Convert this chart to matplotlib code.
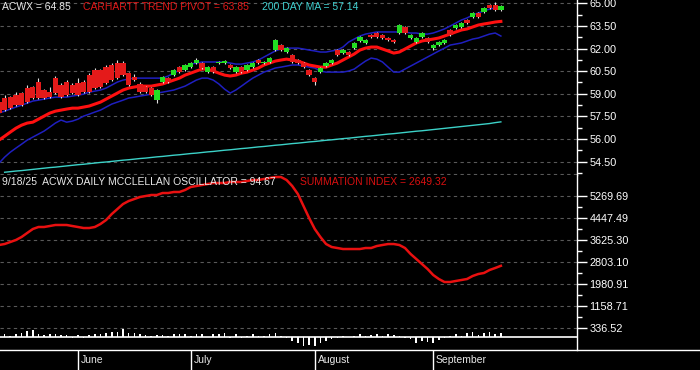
import matplotlib
matplotlib.use("Agg")
import matplotlib.pyplot as plt
import numpy as np
from matplotlib.lines import Line2D

plt.rcParams['font.family'] = ['Liberation Sans', 'DejaVu Sans']

# trading days 5/12/25 .. 9/18/25
months = ['June', 'July', 'August', 'September']
month_start = [14, 34, 56, 77]

opens = [58.45, 58.72, 58.78, 58.91, 59.05, 59.38, 59.45, 59.78, 59.25, 59.11,
         60.04, 59.58, 59.78, 59.58, 59.71, 59.78, 60.24, 60.57, 60.57, 60.77,
         60.91, 61.04, 61.04, 60.37, 60.11, 59.65, 59.45, 59.38, 58.58, 59.78,
         60.04, 60.24, 60.77, 60.57, 60.77, 61.04, 61.04, 60.44, 60.77, 61.04,
         61.04, 60.91, 60.44, 60.77, 60.57, 60.77, 61.24, 61.04, 61.11, 61.90,
         62.23, 61.77, 61.57, 61.24, 61.04, 60.57, 60.04, 60.44, 60.84, 61.04,
         61.90, 61.70, 61.77, 62.03, 62.50, 62.37, 62.90, 63.03, 62.90, 62.70,
         62.57, 63.03, 63.43, 62.70, 62.43, 62.76, 62.70, 62.03, 62.23, 62.37,
         63.23, 63.36, 63.43, 63.89, 64.09, 64.36, 64.42, 64.89, 64.89, 64.56]
closes = [57.72, 57.92, 58.05, 58.25, 58.25, 58.45, 58.72, 58.72, 58.72, 58.78,
          59.05, 58.78, 58.91, 59.05, 58.91, 59.11, 59.11, 59.38, 59.45, 59.71,
          59.91, 60.04, 60.24, 59.58, 59.91, 59.11, 59.11, 58.91, 59.25, 60.11,
          59.78, 60.57, 60.44, 60.91, 61.04, 61.24, 60.71, 60.77, 60.44, 61.11,
          61.15, 60.71, 60.77, 60.44, 60.91, 61.04, 61.04, 61.11, 61.37, 62.57,
          61.90, 62.03, 61.11, 61.04, 60.77, 60.24, 59.78, 60.71, 61.04, 61.24,
          61.57, 61.90, 61.57, 62.37, 62.76, 62.57, 62.76, 62.76, 62.70, 62.57,
          62.43, 63.56, 63.03, 62.90, 62.70, 63.03, 62.43, 62.23, 62.43, 62.57,
          62.90, 63.56, 63.69, 63.69, 64.36, 64.09, 64.69, 64.69, 64.56, 64.85]
highs = [58.55, 58.95, 58.85, 59.10, 59.15, 59.60, 59.55, 60.05, 59.35, 59.45,
         60.15, 59.70, 59.90, 59.70, 60.05, 59.90, 60.40, 60.70, 60.65, 60.90,
         61.05, 61.25, 61.20, 60.45, 60.30, 59.75, 59.55, 59.45, 59.30, 60.20,
         60.10, 60.65, 60.85, 60.98, 61.10, 61.35, 61.10, 60.85, 60.85, 61.17,
         61.22, 60.98, 60.85, 60.85, 60.98, 61.12, 61.30, 61.18, 61.45, 62.65,
         62.30, 62.10, 61.65, 61.30, 61.10, 60.65, 60.10, 60.78, 61.10, 61.30,
         61.98, 61.98, 61.85, 62.45, 62.85, 62.65, 62.98, 63.10, 62.98, 62.78,
         62.65, 63.65, 63.50, 62.98, 62.78, 63.10, 62.78, 62.30, 62.50, 62.65,
         63.30, 63.62, 63.76, 63.96, 64.42, 64.42, 64.76, 64.96, 65.10, 64.92]
lows = [57.65, 57.85, 58.00, 58.20, 58.20, 58.40, 58.65, 58.65, 58.65, 58.70,
        59.00, 58.75, 58.85, 59.00, 58.85, 59.05, 59.05, 59.30, 59.40, 59.65,
        59.85, 60.00, 60.15, 59.50, 59.85, 59.05, 59.05, 58.85, 58.40, 59.70,
        59.70, 60.15, 60.40, 60.50, 60.70, 60.98, 60.65, 60.38, 60.38, 60.98,
        60.98, 60.62, 60.38, 60.38, 60.50, 60.70, 60.98, 60.98, 61.05, 61.85,
        61.85, 61.70, 61.05, 60.98, 60.70, 60.18, 59.60, 60.38, 60.78, 60.95,
        61.50, 61.62, 61.50, 61.95, 62.42, 62.30, 62.70, 62.70, 62.62, 62.50,
        62.36, 62.95, 62.95, 62.62, 62.36, 62.70, 62.36, 61.90, 62.15, 62.30,
        62.82, 63.28, 63.36, 63.62, 64.02, 64.02, 64.35, 64.62, 64.48, 64.48]

pivot = [55.93, 56.19, 56.46, 56.72, 56.92, 57.06, 57.12, 57.32, 57.52, 57.72,
         57.85, 57.92, 57.99, 58.05, 58.05, 58.12, 58.19, 58.32, 58.45, 58.65,
         58.85, 59.05, 59.25, 59.38, 59.45, 59.51, 59.51, 59.51, 59.58, 59.65,
         59.78, 59.91, 60.04, 60.24, 60.37, 60.51, 60.64, 60.64, 60.51, 60.37,
         60.24, 60.18, 60.24, 60.37, 60.44, 60.57, 60.71, 60.91, 61.04, 61.17,
         61.24, 61.30, 61.24, 61.17, 61.04, 60.91, 60.84, 60.77, 60.77, 60.91,
         61.04, 61.24, 61.44, 61.64, 61.90, 62.03, 62.10, 62.10, 61.97, 61.84,
         61.70, 61.77, 61.97, 62.17, 62.37, 62.50, 62.57, 62.63, 62.70, 62.83,
         62.96, 63.10, 63.23, 63.30, 63.43, 63.56, 63.63, 63.69, 63.76, 63.80]
band_hi = [57.72, 57.85, 57.99, 58.12, 58.25, 58.38, 58.52, 58.58, 58.65, 58.72,
           58.78, 58.78, 58.78, 58.85, 58.91, 58.98, 59.11, 59.18, 59.25, 59.38,
           59.58, 59.78, 59.91, 59.98, 60.04, 60.04, 60.04, 60.04, 60.04, 60.04,
           60.18, 60.37, 60.57, 60.77, 60.97, 61.04, 61.11, 61.11, 61.11, 61.11,
           61.11, 61.04, 60.97, 60.97, 61.04, 61.11, 61.24, 61.44, 61.64, 61.84,
           61.97, 62.03, 62.03, 62.03, 61.97, 61.90, 61.84, 61.77, 61.77, 61.84,
           61.90, 62.10, 62.43, 62.63, 62.83, 62.96, 63.03, 63.10, 63.10, 63.10,
           63.10, 63.10, 63.10, 63.03, 63.03, 62.96, 62.96, 63.03, 63.16, 63.30,
           63.49, 63.69, 63.89, 64.03, 64.22, 64.36, 64.49, 64.62, 64.69, 64.76]
band_lo = [54.40, 54.80, 55.13, 55.40, 55.66, 55.93, 56.13, 56.33, 56.53, 56.79,
           57.06, 57.26, 57.12, 57.19, 57.32, 57.52, 57.65, 57.79, 57.92, 58.12,
           58.32, 58.45, 58.58, 58.72, 58.78, 58.85, 58.91, 58.98, 59.05, 59.11,
           59.18, 59.25, 59.38, 59.51, 59.71, 59.91, 60.04, 60.04, 59.91, 59.65,
           59.31, 59.05, 59.25, 59.51, 59.78, 60.04, 60.24, 60.44, 60.57, 60.71,
           60.77, 60.84, 60.91, 60.91, 60.84, 60.77, 60.71, 60.51, 60.44, 60.44,
           60.44, 60.44, 60.51, 60.64, 60.91, 61.17, 61.37, 61.30, 61.11, 60.77,
           60.44, 60.44, 60.64, 60.84, 61.04, 61.24, 61.44, 61.64, 61.84, 62.03,
           62.23, 62.30, 62.37, 62.50, 62.63, 62.70, 62.83, 62.96, 63.03, 62.83]
ma200 = [np.nan, 53.80, 53.84, 53.88, 53.91, 53.95, 53.99, 54.03, 54.07, 54.11,
         54.14, 54.18, 54.22, 54.26, 54.30, 54.33, 54.37, 54.41, 54.45, 54.48,
         54.52, 54.56, 54.60, 54.63, 54.67, 54.71, 54.74, 54.78, 54.82, 54.85,
         54.89, 54.93, 54.96, 55.00, 55.04, 55.07, 55.11, 55.15, 55.18, 55.22,
         55.26, 55.29, 55.33, 55.37, 55.40, 55.44, 55.48, 55.51, 55.55, 55.59,
         55.62, 55.66, 55.70, 55.73, 55.77, 55.81, 55.84, 55.88, 55.92, 55.95,
         55.99, 56.03, 56.06, 56.10, 56.14, 56.18, 56.21, 56.25, 56.29, 56.33,
         56.36, 56.40, 56.44, 56.48, 56.52, 56.55, 56.59, 56.63, 56.67, 56.71,
         56.75, 56.79, 56.83, 56.87, 56.91, 56.95, 56.99, 57.03, 57.09, 57.14]

summation = [3427, 3464, 3539, 3614, 3726, 3876, 4025, 4100, 4100, 4137,
             4175, 4175, 4175, 4137, 4100, 4062, 4062, 4100, 4212, 4362,
             4585, 4772, 4959, 5071, 5146, 5221, 5258, 5296, 5296, 5370,
             5370, 5408, 5408, 5483, 5595, 5632, 5669, 5707, 5744, 5744,
             5744, 5782, 5782, 5782, 5819, 5856, 5856, 5894, 5931, 5968,
             5968, 5856, 5632, 5333, 4885, 4436, 4025, 3726, 3464, 3352,
             3315, 3277, 3277, 3277, 3277, 3315, 3315, 3389, 3427, 3464,
             3464, 3427, 3315, 3090, 2904, 2717, 2530, 2306, 2156, 2044,
             2044, 2082, 2119, 2156, 2269, 2343, 2381, 2493, 2568, 2649.32]
oscillator = [24, 71, 24, 55, 95, 126, 149, 71, 31, 55,
              71, 31, 31, -24, 31, -24, 31, 55, 71, 95,
              118, 118, 173, 95, 95, 71, 40, 8, 40, 40,
              17, 55, 55, 71, 17, 55, 71, -8, 55, 71,
              95, -24, 55, -24, 17, 55, 8, 17, 55, 78,
              8, -31, -102, -142, -220, -206, -220, -142, -102, -64,
              -24, 17, -10, 10, 55, 17, 40, 71, 20, 55,
              40, 17, -24, -64, -142, -102, -126, -159, -78, -40,
              17, 55, 24, 78, 111, 40, 78, 111, 71, 94.67]

price_ticks = [54.50, 56.00, 57.50, 59.00, 60.50, 62.00, 63.50, 65.00]
sum_ticks = [336.52, 1158.71, 1980.91, 2803.10, 3625.30, 4447.49, 5269.69]

W, H = 700, 370
x = np.arange(len(closes))
xlim = (0.18, 102.5)
grid_kw = dict(color='#595959', linestyle=(0, (3, 3)), linewidth=0.8)

fig = plt.figure(figsize=(W / 100, H / 100), dpi=100, facecolor='black')
ax1 = fig.add_axes([0, 1 - 175 / H, 577 / W, 175 / H])
ax2 = fig.add_axes([0, 20 / H, 577 / W, 175 / H])
ax3 = fig.add_axes([0, 20 / H, 577 / W, 175 / H], facecolor='none')


def style(ax):
    ax.set_facecolor('black')
    for s in ['top', 'left', 'bottom']:
        ax.spines[s].set_visible(False)
    ax.spines['right'].set_color('white')
    ax.spines['right'].set_linewidth(1)
    ax.yaxis.tick_right()
    ax.tick_params(axis='y', which='major', colors='white', length=7, width=1,
                   pad=2, labelsize=7.8)
    ax.tick_params(axis='y', which='minor', colors='white', length=3.5, width=1)
    ax.set_xlim(xlim)


# price panel
style(ax1)
ax1.set_ylim(53.618, 65.219)
ax1.set_yticks(price_ticks)
ax1.set_yticklabels(['%.2f' % v for v in price_ticks])
ax1.set_yticks([53.75] + [v + 0.75 for v in price_ticks[:-1]], minor=True)
ax1.tick_params(axis='x', which='both', bottom=False, labelbottom=False)
for v in price_ticks:
    ax1.axhline(v, zorder=0, **grid_kw)
ax1.axhline(53.66, zorder=0, **grid_kw)

ax1.plot(x, ma200, color='#3cd2c8', lw=1.0, zorder=2)
ax1.plot(x, band_hi, color='#1f1fc0', lw=1.1, zorder=2)
ax1.plot(x, band_lo, color='#1f1fc0', lw=1.1, zorder=2)
ax1.plot(x, pivot, color='#ff1010', lw=2.2, zorder=3)

o = np.array(opens)
c = np.array(closes)
cols = ['#22dd22' if cc >= oo else '#e41a1a' for oo, cc in zip(o, c)]
ax1.vlines(x, lows, highs, color='#e0e0e0', lw=0.8, zorder=4)
ax1.bar(x, c - o, bottom=o, width=0.95, color=cols, zorder=5)

# breadth panel
style(ax2)
ax2.set_ylim(-496.9, 6043.3)
ax2.set_yticks(sum_ticks)
ax2.set_yticklabels(['%.2f' % v for v in sum_ticks])
ax2.set_yticks([(a + b) / 2 for a, b in zip(sum_ticks[:-1], sum_ticks[1:])],
               minor=True)
for v in sum_ticks:
    ax2.axhline(v, zorder=0, **grid_kw)
ax2.axhline(0, color='white', lw=1.2, zorder=2)
ax2.plot(x, summation, color='#e81010', lw=1.8, zorder=3)

ax2.set_xticks(month_start)
ax2.set_xticklabels([])
ax2.tick_params(axis='x', which='major', bottom=True, length=14.4, width=1,
                color='white', direction='out')
ax2.tick_params(axis='x', which='minor', bottom=False)
for m, i in zip(months, month_start):
    ax2.text(i + 0.5, -0.057, m, transform=ax2.get_xaxis_transform(),
             color='#e8e8e8', fontsize=7.5, ha='left', va='center')

osc_h = 175 * 23.7
ax3.set_xlim(xlim)
ax3.set_ylim(-0.076 * osc_h, 0.924 * osc_h)
ax3.bar(x, oscillator, width=0.28, color='white')
ax3.axis('off')

fig.add_artist(Line2D([0, 1], [20 / H, 20 / H], transform=fig.transFigure,
                      color='white', lw=1))

# header texts
def label(px, py, s, col):
    fig.text(px / W, 1 - py / H, s, color=col, fontsize=7.5, ha='left', va='center')

label(2, 7, 'ACWX = 64.85', '#e8e8e8')
label(83, 7, 'CARHARTT TREND PIVOT = 63.85', '#e01818')
label(262, 7, '200 DAY MA = 57.14', '#40d0d0')
label(2, 182, '9/18/25  ACWX DAILY MCCLELLAN OSCILLATOR = 94.67', '#e8e8e8')
label(300, 182, 'SUMMATION INDEX = 2649.32', '#d81010')

fig.savefig('out.png', dpi=100, facecolor='black')
